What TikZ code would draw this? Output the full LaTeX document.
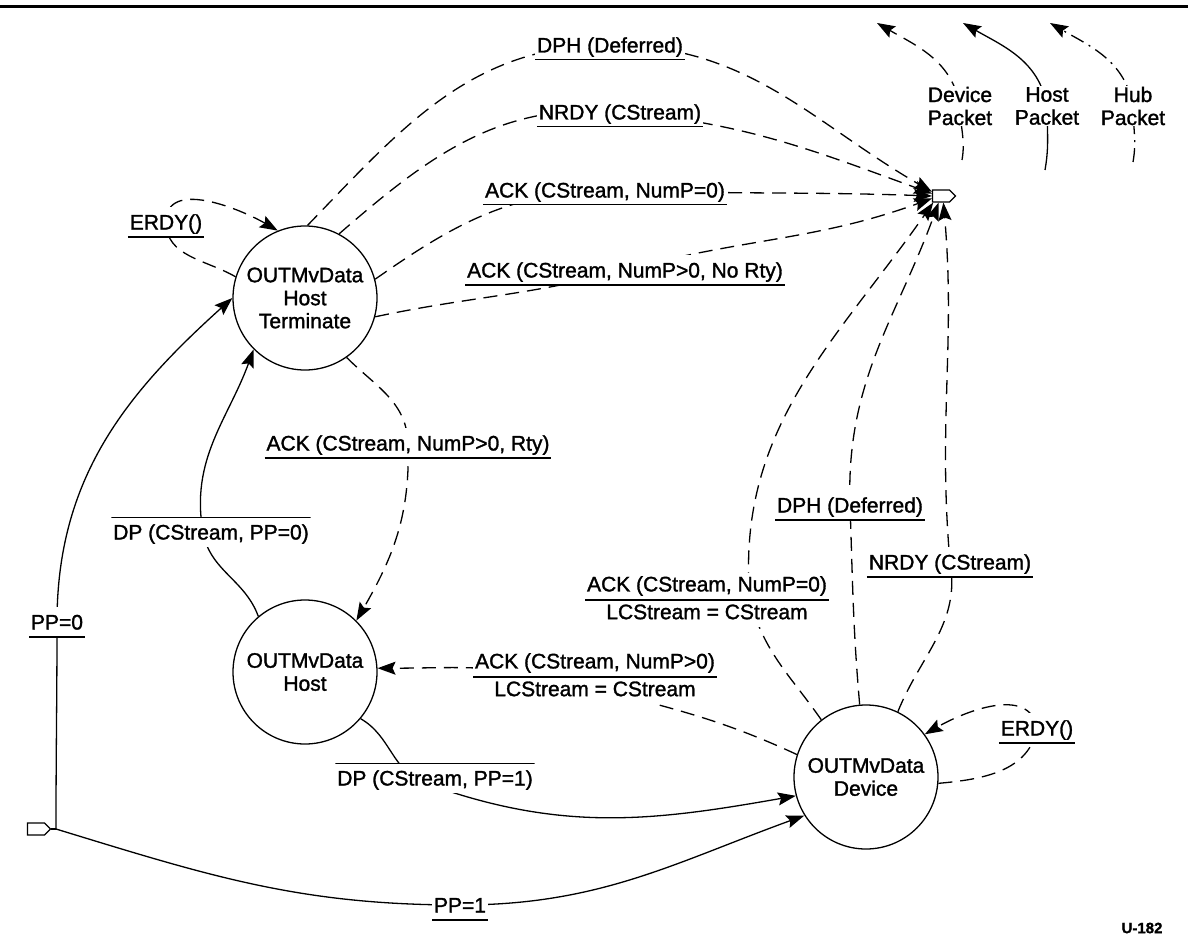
\documentclass[tikz,border=0pt]{standalone}
\usepackage{fontspec}
\setmainfont{Liberation Sans}[FakeBold=1.4]
\usetikzlibrary{arrows.meta,shapes.symbols}
\pgfdeclarelayer{bg}
\pgfsetlayers{bg,main}

\begin{document}
\begin{tikzpicture}[x=1pt,y=1pt,
  font=\fontsize{21pt}{23pt}\selectfont,
  mvstate/.style={draw, circle, minimum size=144pt, inner sep=0pt, align=center, line width=1.3pt},
  port/.style={draw, fill=white, signal, signal to=east, minimum width=23pt, minimum height=12pt, inner sep=0pt, line width=1.1pt},
  lbl/.style={fill=white, inner xsep=2pt, inner ysep=2.5pt, text height=20pt, text depth=5pt},
  ul/.style={lbl, path picture={\draw[line width=2.6pt] (path picture bounding box.south west) -- (path picture bounding box.south east);}},
  ol/.style={lbl, path picture={\draw[line width=2.6pt] (path picture bounding box.north west) -- (path picture bounding box.north east);}},
  frac/.style={fill=white, inner sep=0pt},
  leg/.style={fill=white, inner sep=1pt, align=center},
  trn/.style={line width=1.3pt, -{Stealth[length=18pt,width=13pt,inset=3pt]}},
  dtrn/.style={trn, dash pattern=on 14pt off 8pt},
  ddtrn/.style={trn, dash pattern=on 14pt off 6pt on 2pt off 6pt}
]
\useasboundingbox (0,0) rectangle (1188,-952);
\draw[line width=3pt] (0,-7) -- (1188,-7);

% states
\node[mvstate] (ht)   at (305,-298) {OUTMvData\\Host\\Terminate};
\node[mvstate] (host) at (305,-672) {OUTMvData\\Host};
\node[mvstate] (dev)  at (866,-777) {OUTMvData\\Device};
\node[port] (exit)  at (941,-196) {};
\node[port] (entry) at (36,-829) {};
\coordinate (jn) at (56,-829);

% transition labels
\node[ul] (erdyH) at (166,-222) {ERDY()};
\node[ul] (dphH)  at (610,-45)  {DPH (Deferred)};
\node[ul] (nrdyH) at (620,-112) {NRDY (CStream)};
\node[ul] (ackZH) at (605,-190) {ACK (CStream, NumP=0)};
\node[ul] (ackNR) at (625,-270) {ACK (CStream, NumP>0, No Rty)};
\node[ul] (ackR)  at (408,-443) {ACK (CStream, NumP>0, Rty)};
\node[ol] (dpZ)   at (211,-532) {DP (CStream, PP=0)};
\node[ul] (ppZ)   at (57,-622)  {PP=0};
\node[frac] (ackP) at (595,-677) {\arrayrulewidth=1.3pt\tabcolsep=2pt\def\arraystretch{1.15}%
  \begin{tabular}{c}ACK (CStream, NumP>0)\\\hline LCStream = CStream\end{tabular}};
\node[ol] (dpO)   at (435,-778) {DP (CStream, PP=1)};
\node[ul] (ppO)   at (460,-905) {PP=1};
\node[frac] (ackZD) at (707,-600) {\arrayrulewidth=1.3pt\tabcolsep=2pt\def\arraystretch{1.15}%
  \begin{tabular}{c}ACK (CStream, NumP=0)\\\hline LCStream = CStream\end{tabular}};
\node[ul] (dphD)  at (850,-505) {DPH (Deferred)};
\node[ul] (nrdyD) at (950,-562) {NRDY (CStream)};
\node[ul] (erdyD) at (1037,-728) {ERDY()};

% legend
\node[leg] (lDev)  at (960,-106)  {Device\\Packet};
\node[leg] (lHost) at (1047,-106) {Host\\Packet};
\node[leg] (lHub)  at (1133,-106) {Hub\\Packet};
\coordinate (devS) at (962,-160);  \coordinate (devT) at (877,-23);
\coordinate (hostS) at (1045,-170); \coordinate (hostT) at (963,-23);
\coordinate (hubS) at (1133,-162);  \coordinate (hubT) at (1050,-23);
\node[font=\fontsize{15pt}{17pt}\selectfont\bfseries] (fig) at (1142,-928) {U-182};

% crossing points
\coordinate (cDPz) at (203,-532);
\coordinate (cDPo) at (425,-783);
\coordinate (cAckP) at (575,-683);
\coordinate (cAckZ) at (750,-600);

\begin{pgfonlayer}{bg}
\draw[line width=1.3pt] (entry.east) -- (jn);
\draw[trn] (jn) to[out=90,in=270] (ppZ.center) to[out=90,in=222] (ht.180);
\draw[trn] (jn) to[out=-17,in=180] (ppO.center) to[out=0,in=200] (dev.212);
% from Host Terminate
\draw[dtrn] (ht.163) to[out=150,in=-90] (erdyH.center) to[out=90,in=150] (ht.112);
\draw[dtrn] (ht.88) to[out=46,in=180] (dphH.center) to[out=0,in=150] (exit.155);
\draw[dtrn] (ht.62) to[out=41,in=175] (nrdyH.center) to[out=-5,in=160] (exit.165);
\draw[dtrn] (ht.15) to[out=35,in=182] (ackZH.center) to[out=-2,in=178] (exit.180);
\draw[dtrn] (ht.-15) to[out=12,in=195] (ackNR.center) to[out=15,in=200] (exit.195);
\draw[dtrn] (ht.-55) to[out=-45,in=92] (ackR.center) to[out=-88,in=60] (host.45);
% from Host
\draw[trn] (host.130) to[out=110,in=-80] (cDPz) to[out=100,in=250] (ht.225);
\draw[trn] (host.-40) to[out=-30,in=160] (cDPo) to[out=-20,in=190] (dev.195);
% from Device
\draw[dtrn] (dev.162) to[out=155,in=-15] (cAckP) to[out=165,in=0] (host.3);
\draw[dtrn] (dev.128) to[out=125,in=-75] (cAckZ) to[out=95,in=235] (exit.220);
\draw[dtrn] (dev.95) to[out=95,in=-88] (dphD.center) to[out=92,in=250] (exit.250);
\draw[dtrn] (dev.64) to[out=68,in=-80] (nrdyD.center) to[out=95,in=275] (exit.290);
\draw[dtrn] (dev.-5) to[out=5,in=-100] (erdyD.center) to[out=100,in=30] (dev.36);
% legend arcs
\draw[dtrn] (devS) to[out=80,in=-90] (lDev.center) to[out=100,in=-30] (devT);
\draw[trn] (hostS) to[out=80,in=-90] (lHost.center) to[out=100,in=-30] (hostT);
\draw[ddtrn] (hubS) to[out=80,in=-90] (lHub.center) to[out=100,in=-30] (hubT);
\end{pgfonlayer}
\end{tikzpicture}
\end{document}
